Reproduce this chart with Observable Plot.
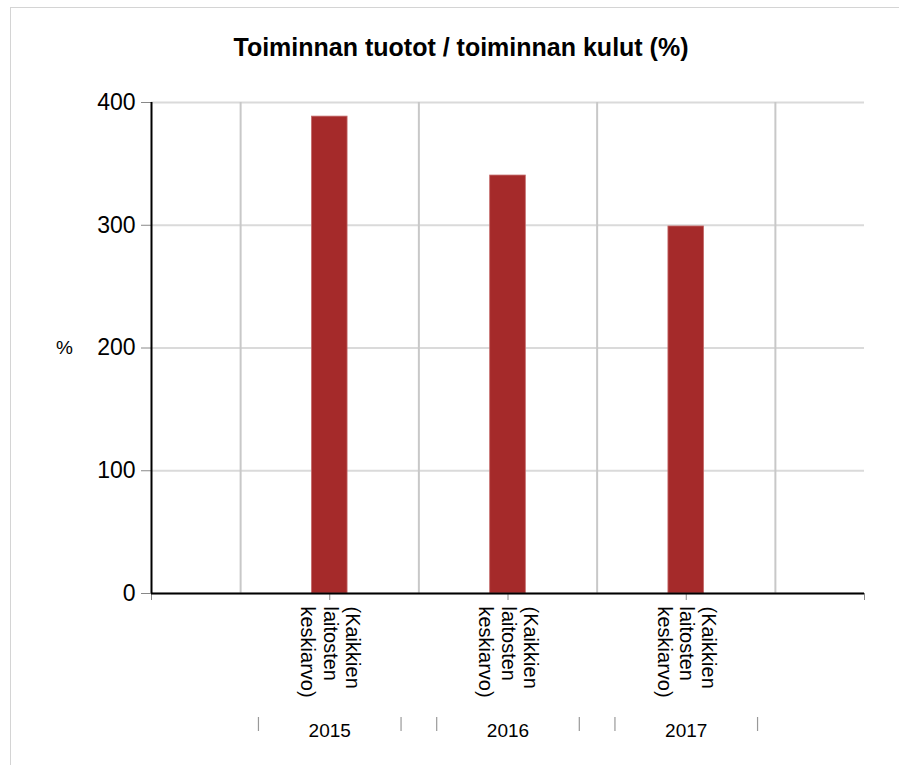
<!DOCTYPE html>
<html>
<head>
<meta charset="utf-8">
<script src="https://cdn.jsdelivr.net/npm/d3@7"></script>
<script src="https://cdn.jsdelivr.net/npm/@observablehq/plot@0.6"></script>
<style>
  html, body { margin: 0; padding: 0; background: #fff; overflow: hidden; }
  #wrap { position: relative; width: 899px; height: 765px; font-family: "Liberation Sans", Arial, sans-serif; }
  #border { position: absolute; left: 10px; top: 7px; width: 900px; height: 800px;
            border-top: 1px solid #d4d4d4; border-left: 1px solid #d4d4d4; pointer-events: none; }
  #title { box-sizing: border-box; width: 899px; height: 80px; padding-top: 33px; padding-left: 23px;
           text-align: center; font-weight: bold; font-size: 25px; line-height: 28px; color: #000; }
  #chart svg { display: block; }
</style>
</head>
<body>
<div id="wrap">
  <div id="border"></div>
  <div id="title"></div>
  <div id="chart"></div>
</div>
<script>
const title = "Toiminnan tuotot / toiminnan kulut (%)";
const years = ["2015", "2016", "2017"];
const categories = ["(Kaikkien laitosten keskiarvo)", "(Kaikkien laitosten keskiarvo)", "(Kaikkien laitosten keskiarvo)"];
const values = [388.5, 340.5, 299];
const yTicks = [0, 100, 200, 300, 400];
const yLabel = "%";

document.getElementById("title").textContent = title;

const data = years.map((year, i) => ({year, category: categories[i], value: values[i], pos: i + 1}));
const slots = years.length + 1;
const vGrid = d3.range(slots).map(i => i + 0.5);
const seps = data.flatMap(d => [d.pos - 0.4, d.pos + 0.4]);

const chart = Plot.plot({
  width: 899,
  height: 685,
  marginTop: 22,
  marginLeft: 151,
  marginRight: 35,
  marginBottom: 172,
  style: {fontFamily: "'Liberation Sans', Arial, sans-serif", color: "#000", background: "transparent"},
  x: {domain: [0, slots], axis: null},
  y: {domain: [0, 400], axis: null},
  marks: [
    Plot.gridY(yTicks, {stroke: "#dadada", strokeOpacity: 1, strokeWidth: 2}),
    Plot.gridX(vGrid, {stroke: "#c8c8c8", strokeOpacity: 1, strokeWidth: 2}),
    Plot.rectY(data, {x1: d => d.pos - 0.1, x2: d => d.pos + 0.1, y: "value", fill: "#a52a2a", stroke: "#c46a6a", strokeWidth: 0.8}),
    Plot.axisY({ticks: yTicks, tickSize: 10, tickPadding: 6, fontSize: 23, stroke: "#888", fill: "#000", label: null}),
    Plot.axisX({ticks: d3.range(slots + 1), tickSize: 7, tickFormat: () => "", stroke: "#888", label: null}),
    Plot.ruleX([0], {stroke: "#000", strokeWidth: 2}),
    Plot.ruleY([0], {stroke: "#000", strokeWidth: 2}),
    Plot.text(data, {
      x: "pos",
      text: d => d.category.split(" ").join("\n"),
      frameAnchor: "bottom",
      rotate: 90,
      textAnchor: "start",
      lineAnchor: "middle",
      lineHeight: 1.12,
      fontSize: 20,
      fill: "#000",
      dx: 1,
      dy: 13
    }),
    Plot.text(data, {x: "pos", text: "year", frameAnchor: "bottom", dy: 143, fontSize: 19, fill: "#000"}),
    Plot.ruleX(seps, {stroke: "#999", strokeWidth: 1.2, insetTop: 477, dy: 138}),
    Plot.text([yLabel], {text: d => d, frameAnchor: "left", textAnchor: "middle", dx: -87, fontSize: 19, fill: "#000"})
  ]
});
document.getElementById("chart").appendChild(chart);
</script>
</body>
</html>
